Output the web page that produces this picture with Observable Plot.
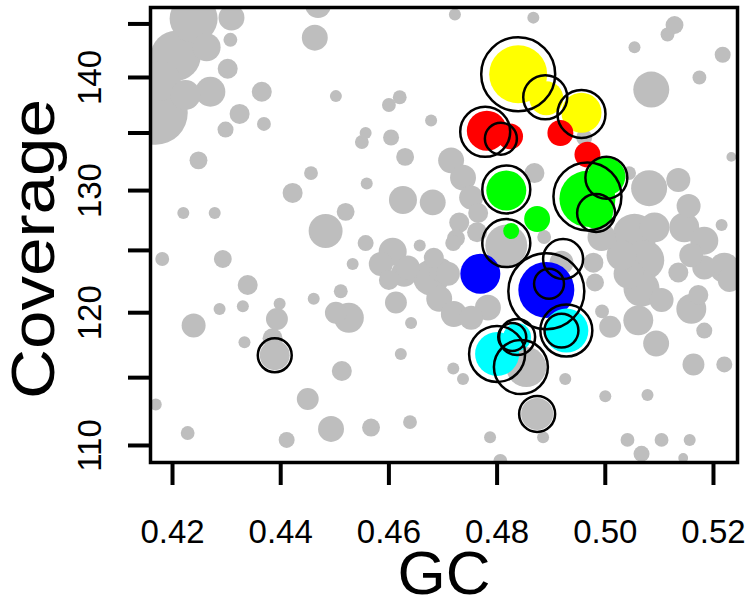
<!DOCTYPE html>
<html>
<head>
<meta charset="utf-8">
<script src="https://cdn.jsdelivr.net/npm/d3@7"></script>
<script src="https://cdn.jsdelivr.net/npm/@observablehq/plot@0.6"></script>
<style>
  html, body { margin: 0; padding: 0; background: #fff; }
  #chart { width: 750px; height: 605px; }
  svg { font-family: "Liberation Sans", Arial, Helvetica, sans-serif; }
</style>
</head>
<body>
<div id="chart"></div>
<script>
// [GC, coverage, contig length]
const grayPoints = [
  [0.4239,145.5,144],[0.4206,142.0,156],[0.4178,139.7,100],[0.4169,136.8,256],[0.4263,142.8,49],
  [0.4309,145.6,42],[0.4270,138.7,56],[0.4224,138.4,56],[0.4307,143.5,12],[0.4302,140.8,25],
  [0.4365,138.7,25],[0.4324,136.7,25],[0.4298,135.3,16],[0.4369,135.8,12],[0.4469,146.8,42],
  [0.4463,143.7,42],[0.4502,138.3,9],[0.4600,137.5,12],[0.4620,138.2,12],[0.4678,136.1,9],
  [0.4557,135.0,9],[0.4550,134.2,12],[0.4604,134.6,16],[0.4630,132.9,20],[0.4248,132.6,20],
  [0.4456,131.5,12],[0.4422,129.8,25],[0.4559,130.6,9],[0.4626,129.2,49],[0.4681,129.0,42],
  [0.4520,128.2,20],[0.4483,126.6,72],[0.4220,128.1,9],[0.4278,128.1,9],[0.4722,145.9,9],
  [0.4867,145.6,9],[0.5128,144.9,20],[0.5115,144.0,12],[0.5054,142.8,9],[0.5217,142.1,16],
  [0.5085,138.9,81],[0.5174,140.0,12],[0.5233,132.9,6],[0.4961,134.6,16],[0.4715,132.6,42],
  [0.4737,131.1,42],[0.4752,129.4,36],[0.4765,128.1,25],[0.4730,127.3,25],[0.4724,126.0,20],
  [0.4763,126.5,25],[0.4869,131.5,25],[0.4181,124.3,12],[0.4293,124.3,20],[0.4339,122.2,25],
  [0.4287,120.3,9],[0.4330,120.5,9],[0.4239,119.0,36],[0.4398,120.7,9],[0.4393,119.5,30],
  [0.4385,118.0,25],[0.4389,116.7,56],[0.4333,117.7,9],[0.4461,121.1,9],[0.4511,121.7,12],
  [0.4502,120.0,30],[0.4526,119.6,56],[0.4557,125.6,16],[0.4533,123.9,9],[0.4641,119.2,9],
  [0.4622,116.8,9],[0.4513,115.5,25],[0.4450,113.4,30],[0.4493,111.2,42],[0.4567,111.3,20],
  [0.4639,111.7,12],[0.4411,110.4,16],[0.4228,110.9,12],[0.4169,113.0,9],[0.4719,115.7,9],
  [0.4657,125.4,9],[0.4607,124.9,49],[0.4585,123.9,36],[0.4635,123.6,36],[0.4683,124.4,25],
  [0.4696,123.4,36],[0.4719,125.6,16],[0.4628,123.1,42],[0.4678,122.8,81],[0.4613,120.8,30],
  [0.4693,121.1,42],[0.4720,119.9,42],[0.4752,119.6,36],[0.4783,120.4,42],[0.4709,123.1,36],
  [0.4600,122.6,25],[0.4817,125.4,110],[0.4854,115.8,100],[0.4874,112.3,64],[0.4919,124.0,36],
  [0.4737,114.9,9],[0.4926,114.9,9],[0.5000,113.6,9],[0.5078,113.7,9],[0.4787,110.6,9],
  [0.4885,110.6,9],[0.5041,110.4,12],[0.5104,110.4,12],[0.5156,110.4,9],[0.5067,109.4,16],
  [0.4806,108.9,12],[0.5144,109.1,6],[0.5163,116.0,30],[0.5220,116.0,16],[0.5094,117.6,42],
  [0.5159,120.3,56],[0.5183,118.6,16],[0.5009,118.9,30],[0.4994,120.1,12],[0.5061,119.4,56],
  [0.4981,122.4,20],[0.4978,124.0,25],[0.4993,126.1,49],[0.5044,131.5,12],[0.5081,130.2,81],
  [0.5135,130.9,36],[0.5154,128.7,36],[0.5215,127.1,9],[0.5054,126.2,121],[0.5091,126.9,56],
  [0.5146,126.9,56],[0.5183,125.8,49],[0.5220,123.6,56],[0.5183,123.6,36],[0.5135,123.2,25],
  [0.5072,124.2,100],[0.5043,123.1,56],[0.5067,121.9,81],[0.5172,121.4,25],[0.5230,122.6,36],
  [0.4887,126.1,12],[0.5030,124.6,56],[0.5159,124.6,36],[0.5104,121.0,36]
];
const yellowPoints = [[0.4839,140.3,210],[0.4891,138.1,72],[0.4956,136.8,100]];
const redPoints    = [[0.4781,135.2,100],[0.4824,134.7,42],[0.4917,135.0,42],[0.4967,133.1,42]];
const greenPoints  = [[0.4817,130.0,100],[0.4967,129.3,196],[0.5002,131.2,90],[0.4983,128.2,72],[0.4874,127.6,42],[0.4826,126.6,16]];
const bluePoints   = [[0.4769,123.1,100],[0.4891,121.8,196]];
const cyanPoints   = [[0.4928,118.6,121],[0.4800,116.8,121],[0.4837,118.1,49]];
const ringPoints   = [
  [0.4839,140.3,342],[0.4889,138.2,121],[0.4956,136.7,144],[0.4778,135.1,156],[0.4807,134.5,64],
  [0.4817,130.1,144],[0.4967,129.5,289],[0.5002,131.1,110],[0.4983,128.1,90],[0.4817,125.6,144],
  [0.4922,124.3,100],[0.4891,121.7,361],[0.4896,122.3,56],[0.4928,118.6,169],[0.4919,118.6,72],
  [0.4800,116.8,196],[0.4837,118.1,81],[0.4828,118.1,49],[0.4844,115.8,182],[0.4874,112.3,81],
  [0.4389,116.7,72]
];
const xTicks = [0.42, 0.44, 0.46, 0.48, 0.50, 0.52];
const yTicks = [110, 115, 120, 125, 130, 135, 140, 145];
const yLabels = [110, 120, 130, 140];

const rows = a => a.map(([gc, cov, len]) => ({gc, cov, len}));
const groups = [
  [yellowPoints, "#FFFF00"], [redPoints, "#FF0000"], [greenPoints, "#00FF00"],
  [bluePoints, "#0000FF"], [cyanPoints, "#00FFFF"]
];
const font = "Liberation Sans, Arial, Helvetica, sans-serif";

const chart = Plot.plot({
  width: 750, height: 605,
  marginLeft: 150, marginRight: 13, marginTop: 7, marginBottom: 143,
  style: {background: "#fff", color: "#000", fontFamily: font},
  x: {domain: [0.41593, 0.52444], label: null},
  y: {type: "log", domain: [108.78, 146.57], label: null},
  r: {type: "sqrt", domain: [0, 400], range: [0, 40]},
  marks: [
    Plot.dot(rows(grayPoints), {x: "gc", y: "cov", r: "len", fill: "#BEBEBE", clip: true}),
    ...groups.map(([pts, c]) => Plot.dot(rows(pts), {x: "gc", y: "cov", r: "len", fill: c, clip: true})),
    Plot.dot(rows(ringPoints), {x: "gc", y: "cov", r: "len", fill: "none", stroke: "#000", strokeWidth: 2.5, clip: true}),
    Plot.frame({stroke: "#000", strokeWidth: 3.5}),
    Plot.axisX({ticks: xTicks, tickSize: 23, strokeWidth: 4, tickFormat: () => "", label: null}),
    Plot.axisY({ticks: yTicks, tickSize: 22, strokeWidth: 4, tickFormat: () => "", label: null}),
    Plot.text(xTicks, {x: d => d, text: d => d.toFixed(2), frameAnchor: "bottom", dy: 80, lineAnchor: "bottom", textAnchor: "middle", fontSize: 33, fill: "#000"}),
    Plot.text(yLabels, {y: d => d, text: d => String(d), frameAnchor: "left", dx: -50, rotate: -90, lineAnchor: "bottom", textAnchor: "middle", fontSize: 33, fill: "#000"}),
    Plot.text(["GC"], {text: d => d, frameAnchor: "bottom", dy: 131, lineAnchor: "bottom", textAnchor: "middle", fontSize: 62, fill: "#000"}),
    Plot.text(["Coverage"], {text: d => d, frameAnchor: "left", dx: -97, dy: 14, rotate: -90, lineAnchor: "bottom", textAnchor: "middle", fontSize: 62, fill: "#000"})
  ]
});
d3.select(chart).selectAll("text")
  .filter(function () { return this.textContent === "Coverage"; })
  .attr("textLength", 300)
  .attr("lengthAdjust", "spacingAndGlyphs");
document.getElementById("chart").appendChild(chart);
</script>
</body>
</html>
